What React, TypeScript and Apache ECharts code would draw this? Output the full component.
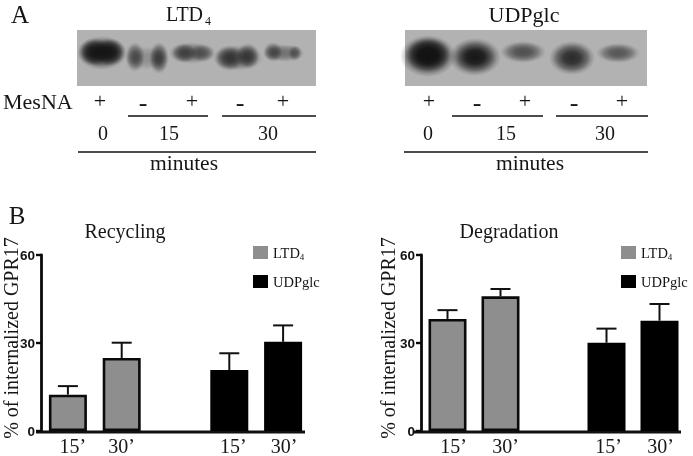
import React, { useEffect, useRef } from "react";
import * as echarts from "echarts";

const timeLabels = ["15’", "30’", "", "15’", "30’"];
const recyclingLtd = [12.4, 24.9, null, null, null];
const recyclingUdp = [null, null, null, 20.8, 30.4];
const recyclingTop = [15.3, 30.1, null, 26.5, 36.0];
const degradationLtd = [38.2, 45.9, null, null, null];
const degradationUdp = [null, null, null, 30.1, 37.6];
const degradationTop = [41.2, 48.4, null, 34.9, 43.3];
const yTicks = { min: 0, max: 60, interval: 30 };
const GRAY = "#8e8e8e";
const INK = "#161616";
const SERIF = '"Liberation Serif"';

const text = (s: string, x: number, y: number, size: number, extra: any = {}) => ({
  type: "text",
  x,
  y,
  ...extra,
  style: {
    text: s,
    font: `${size}px ${SERIF}`,
    fill: INK,
    textAlign: extra.align ?? "center",
    textVerticalAlign: "middle",
    ...(extra.style ?? {}),
  },
});

const line = (x1: number, x2: number, y: number, w = 1.5) => ({
  type: "line",
  shape: { x1, y1: y, x2, y2: y },
  style: { stroke: "#111", lineWidth: w },
});

const band = (cx: number, cy: number, rx: number, ry: number, a: number) => ({
  type: "ellipse",
  shape: { cx, cy, rx, ry },
  style: {
    fill: new echarts.graphic.RadialGradient(0.5, 0.5, 0.5, [
      { offset: 0, color: `rgba(18,18,18,${a})` },
      { offset: 0.35, color: `rgba(18,18,18,${a * 0.9})` },
      { offset: 0.65, color: `rgba(18,18,18,${a * 0.55})` },
      { offset: 0.85, color: `rgba(18,18,18,${a * 0.18})` },
      { offset: 1, color: "rgba(18,18,18,0)" },
    ]),
  },
});

const blotBg = (x: number, width: number) => ({
  type: "rect",
  shape: { x, y: 30, width, height: 56 },
  style: { fill: "#b2b2b2" },
});

const blotBandsA = [
  band(94, 52, 16, 14, 0.9),
  band(110, 52, 16, 14, 0.9),
  band(102, 53, 25, 17, 0.85),
  band(135, 57, 10, 15, 0.6),
  band(159, 58, 10, 16, 0.7),
  band(147, 58, 21, 12, 0.22),
  band(184, 53, 13, 10, 0.55),
  band(202, 53, 13, 9, 0.42),
  band(192, 53, 24, 11, 0.42),
  band(229, 58, 15, 13, 0.65),
  band(248, 56, 12, 13, 0.65),
  band(238, 58, 25, 13, 0.45),
  band(273, 52, 10, 10, 0.55),
  band(295, 53, 7, 8, 0.45),
  band(284, 53, 21, 9, 0.4),
];
const blotBandsB = [
  band(428, 56, 28, 21, 1),
  band(428, 54, 23, 17, 0.9),
  band(475, 57, 26, 19, 0.95),
  band(475, 57, 18, 12, 0.4),
  band(523, 52, 23, 11, 0.62),
  band(572, 58, 23, 17, 0.85),
  band(618, 53, 22, 10, 0.58),
];

function makeSeries(ltd: any[], udp: any[], top: any[], idx: number) {
  const barBase = {
    type: "bar",
    xAxisIndex: idx,
    yAxisIndex: idx,
    barWidth: 38,
    barGap: "-100%",
  };
  const merged = ltd.map((v, i) => v ?? udp[i]);
  return [
    {
      ...barBase,
      name: "LTD4",
      data: ltd,
      itemStyle: { color: GRAY, borderColor: "#0a0a0a", borderWidth: 2.6 },
    },
    {
      ...barBase,
      name: "UDPglc",
      data: udp,
      itemStyle: { color: "#000", borderColor: "#000", borderWidth: 2.6 },
    },
    {
      type: "custom",
      name: "error",
      xAxisIndex: idx,
      yAxisIndex: idx,
      z: 1,
      data: top
        .map((t, i) => (t == null ? null : [i, merged[i], t]))
        .filter(Boolean),
      renderItem: (_p: any, api: any) => {
        const lo = api.coord([api.value(0), api.value(1)]);
        const hi = api.coord([api.value(0), api.value(2)]);
        const st = { stroke: "#111", lineWidth: 2 };
        return {
          type: "group",
          children: [
            { type: "line", shape: { x1: lo[0], y1: lo[1], x2: hi[0], y2: hi[1] }, style: st },
            { type: "line", shape: { x1: hi[0] - 10, y1: hi[1], x2: hi[0] + 10, y2: hi[1] }, style: st },
          ],
        };
      },
    },
  ];
}

const makeCategory = (idx: number, shifts: number[]) => ({
  type: "category",
  gridIndex: idx,
  data: timeLabels.map((value, i) => ({
    value,
    textStyle: { padding: [0, 0, 0, shifts[i] * 2] },
  })),
  axisLine: { show: false },
  axisTick: { show: false },
  axisLabel: { interval: 0, margin: 5, fontFamily: SERIF, fontSize: 20, color: INK },
});

const makeValue = (idx: number) => ({
  type: "value",
  gridIndex: idx,
  ...yTicks,
  splitLine: { show: false },
  axisLine: { show: true, lineStyle: { color: "#0a0a0a", width: 2.8 } },
  axisTick: { show: true, length: 5, lineStyle: { color: "#0a0a0a", width: 2.4 } },
  axisLabel: {
    margin: 6,
    fontFamily: '"Liberation Sans"',
    fontWeight: "bold",
    fontSize: 13.5,
    color: "#111",
  },
});

const legendOf = (left: number) => ({
  left,
  top: 245,
  padding: 0,
  orient: "vertical",
  icon: "rect",
  itemWidth: 15,
  itemHeight: 13,
  itemGap: 13,
  selectedMode: false,
  data: ["LTD4", "UDPglc"],
  itemStyle: { borderWidth: 0 },
  formatter: (n: string) => (n === "LTD4" ? "LTD{sub|4}" : n),
  textStyle: {
    fontFamily: SERIF,
    fontSize: 14.5,
    color: INK,
    rich: { sub: { fontFamily: SERIF, fontSize: 9, color: INK, verticalAlign: "bottom", padding: [8, 0, 0, 0] } },
  },
});

const titleStyle = { fontFamily: SERIF, fontWeight: "normal", fontSize: 20, color: INK };

export default function App() {
  const ref = useRef<HTMLDivElement>(null);
  useEffect(() => {
    document.body.style.margin = "0";
    const chart = echarts.init(ref.current!, undefined, { renderer: "svg" });
    chart.setOption({
      animation: false,
      backgroundColor: "#fff",
      title: [
        { text: "Recycling", left: 125, top: 221, padding: 0, textAlign: "center", textStyle: titleStyle },
        { text: "Degradation", left: 509, top: 221, padding: 0, textAlign: "center", textStyle: titleStyle },
      ],
      legend: [legendOf(253), legendOf(621)],
      grid: [
        { left: 41, top: 255, width: 269, height: 177 },
        { left: 421, top: 255, width: 265, height: 177 },
      ],
      xAxis: [makeCategory(0, [5, 0, 0, 4, 1]), makeCategory(1, [6, 5, 0, 2, 1])],
      yAxis: [makeValue(0), makeValue(1)],
      series: [
        ...makeSeries(recyclingLtd, recyclingUdp, recyclingTop, 0),
        ...makeSeries(degradationLtd, degradationUdp, degradationTop, 1),
      ],
      graphic: {
        elements: [
          blotBg(77, 239),
          ...blotBandsA,
          blotBg(405, 242),
          ...blotBandsB,
          line(36, 305, 432, 2.8),
          line(414, 681, 432, 2.8),
          text("A", 20, 14, 25),
          text("B", 17, 215, 25),
          text("LTD", 166, 14, 20, { align: "left" }),
          text("4", 205, 21, 12, { align: "left" }),
          text("UDPglc", 524, 14, 22),
          text("MesNA", 3, 101, 22, { align: "left" }),
          ...[100, 192, 283, 429, 525, 622].map((x) => text("+", x, 100, 22)),
          ...[143, 240, 477, 574].map((x) => text("-", x, 102, 26)),
          line(128, 208, 116),
          line(222, 316, 116),
          line(452, 543, 116),
          line(556, 648, 116),
          text("0", 103, 133, 20),
          text("15", 169, 133, 20),
          text("30", 268, 133, 20),
          text("0", 428, 133, 20),
          text("15", 506, 133, 20),
          text("30", 605, 133, 20),
          line(78, 316, 152),
          line(404, 648, 152),
          text("minutes", 184, 163, 21.5),
          text("minutes", 530, 163, 21.5),
          text("% of internalized GPR17", 11, 338, 20, { rotation: Math.PI / 2 }),
          text("% of internalized GPR17", 388, 338, 20, { rotation: Math.PI / 2 }),
        ],
      },
    });
    return () => chart.dispose();
  }, []);
  return <div ref={ref} style={{ position: "absolute", left: 0, top: 0, width: 693, height: 456, filter: "blur(0.4px)" }} />;
}
